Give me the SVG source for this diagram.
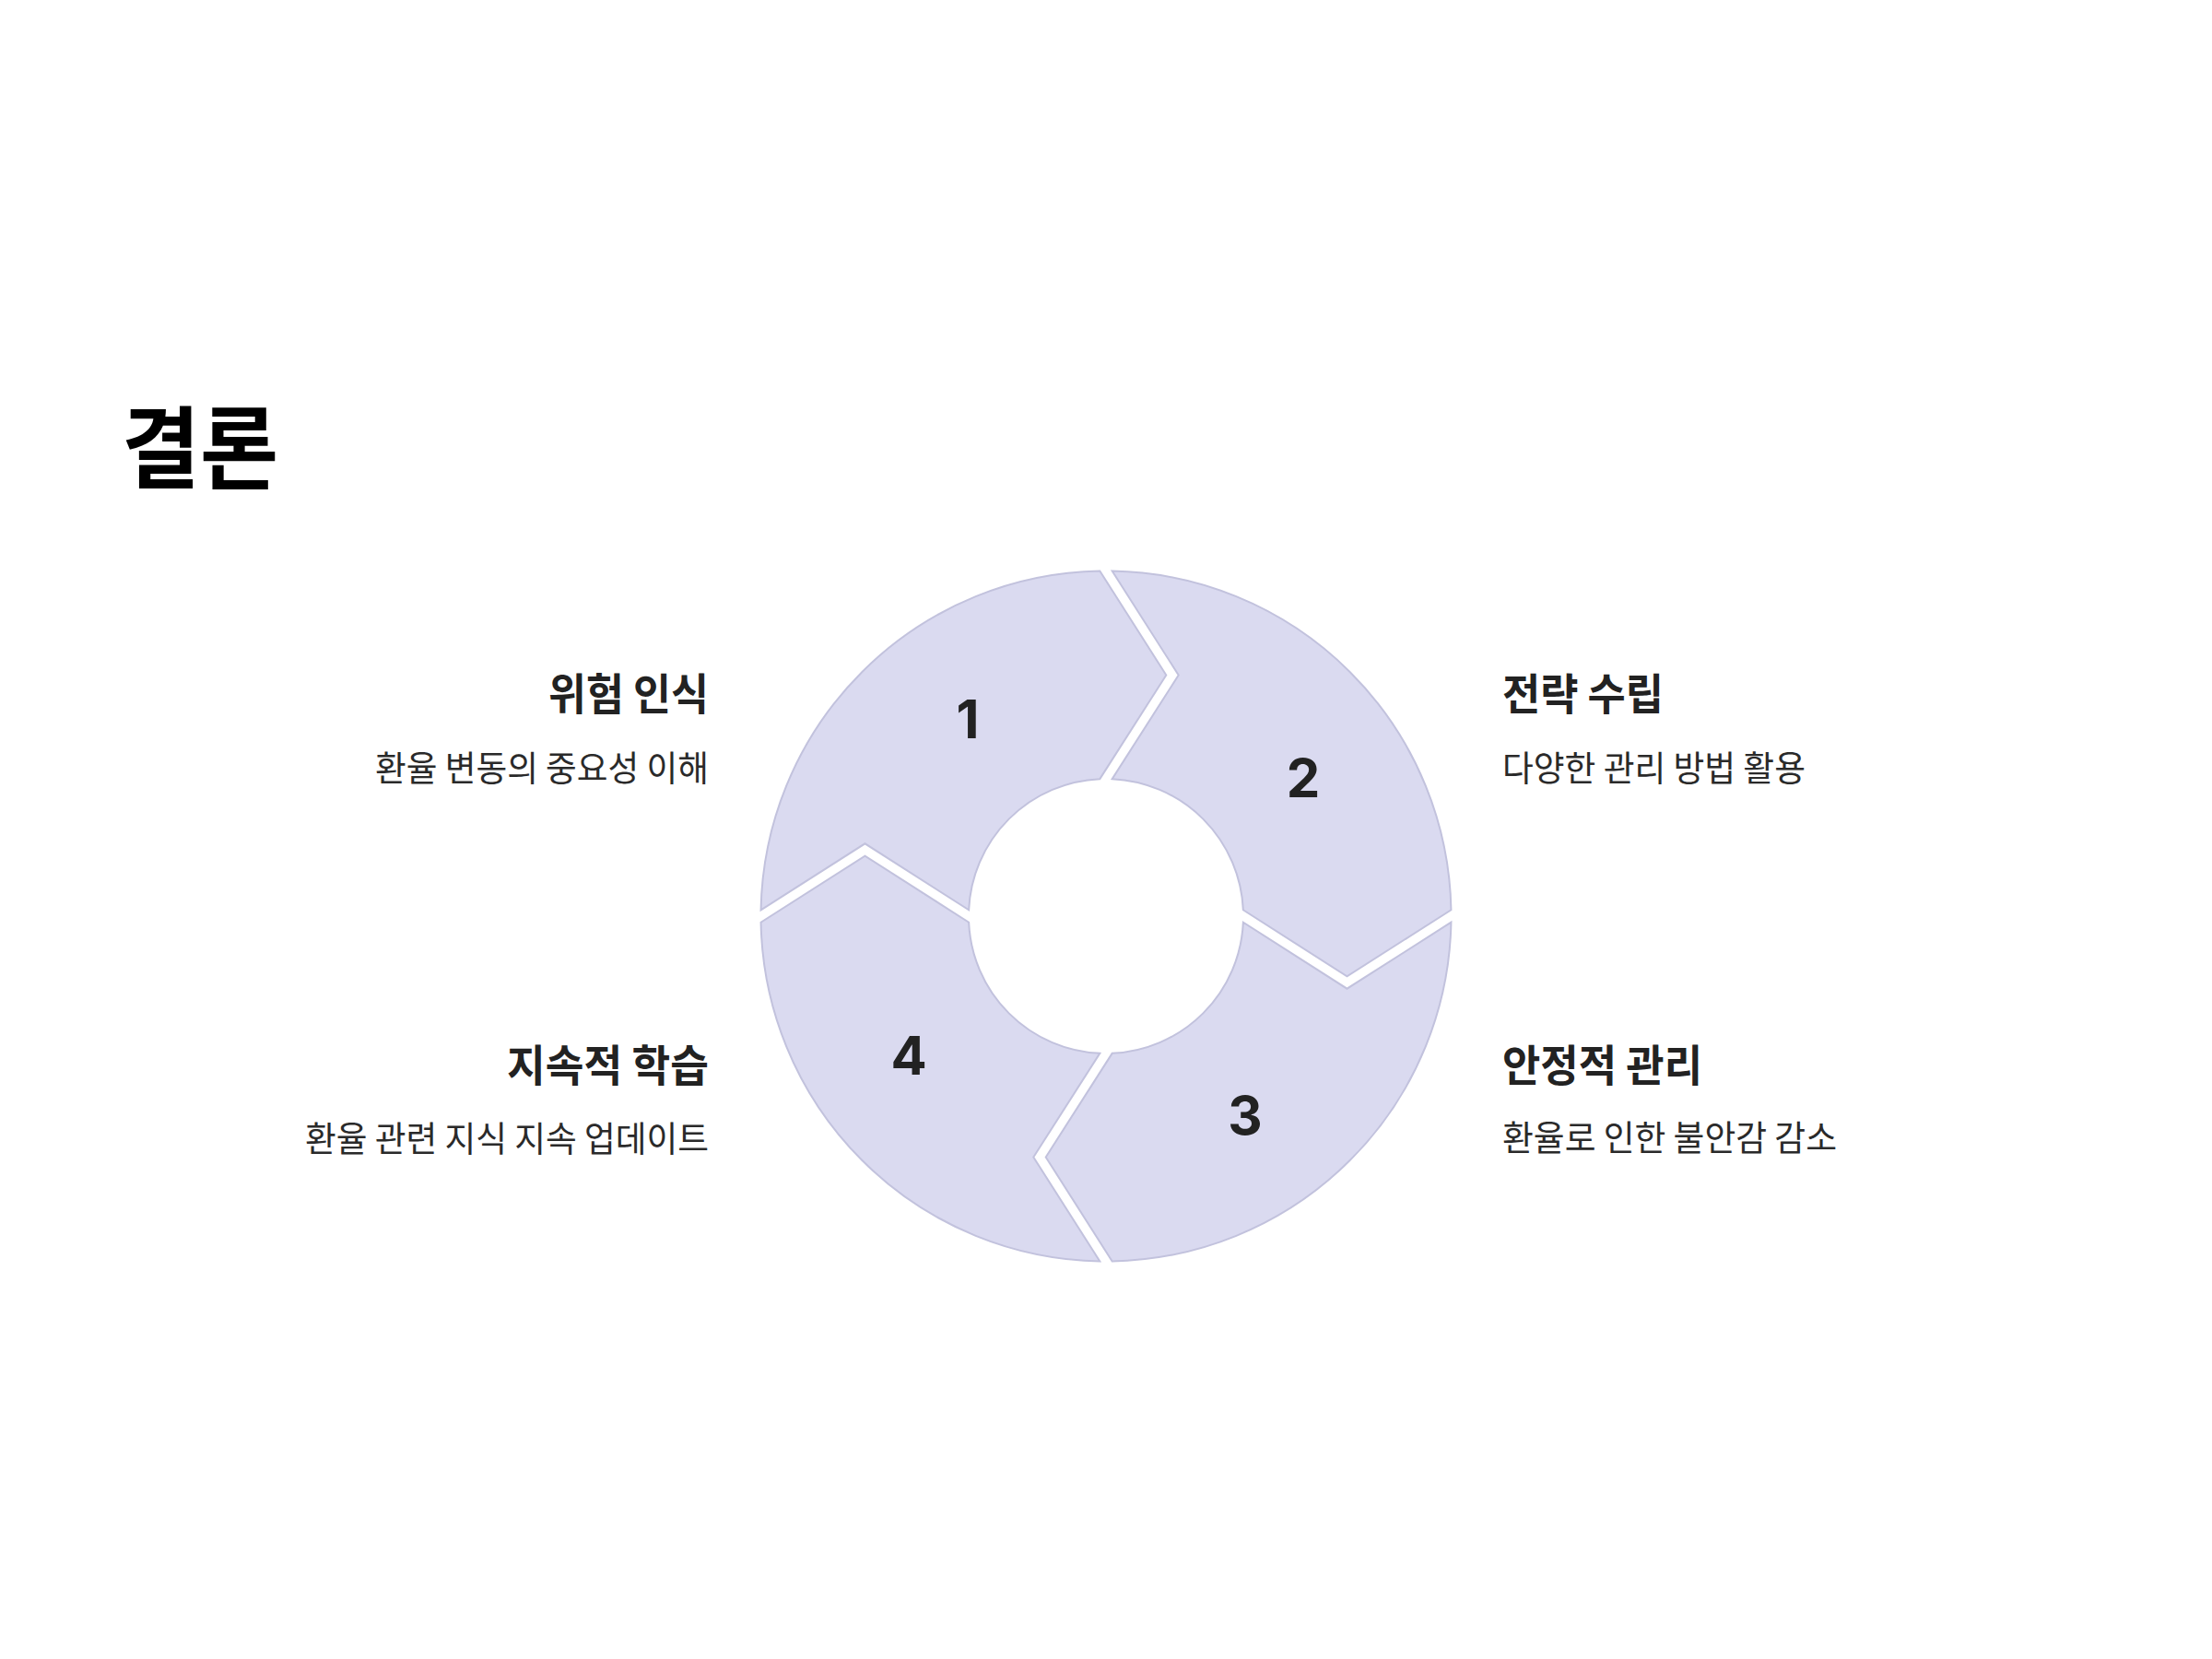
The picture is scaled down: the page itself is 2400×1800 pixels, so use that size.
<svg xmlns="http://www.w3.org/2000/svg" width="2400" height="1800" viewBox="0 0 2400 1800">
  <style>
    .seg { fill: #DADAF0; stroke: #C2C2DD; stroke-width: 2; stroke-linejoin: miter; }
    .num { font-family: Inter, "Liberation Sans", sans-serif; font-weight: 700; font-size: 58px; fill: #222222; text-anchor: middle; }
    .title { font-family: "Noto Sans CJK KR", sans-serif; font-weight: 700; font-size: 96px; fill: #000000; }
    .head { font-family: "Noto Sans CJK KR", sans-serif; font-weight: 700; font-size: 47px; fill: #222222; }
    .sub { font-family: "Noto Sans CJK KR", sans-serif; font-weight: 400; font-size: 38px; fill: #2a2a2a; }
    .end { text-anchor: end; }
    .start { text-anchor: start; }
  </style>
  <rect width="2400" height="1800" fill="#FFFFFF"/>

  <g id="title">
    <text class="title" x="132" y="521" textLength="170" lengthAdjust="spacingAndGlyphs">결론</text>
  </g>

  <g id="connectors"></g>

  <g id="step1">
    <path class="seg" d="M 825.56 987.3 A 374.5 374.5 0 0 1 1193.3 619.56 L 1265.3 732.5 L 1193.3 845.15 A 149 149 0 0 0 1051.15 987.3 L 938.5 915.3 Z"/>
    <text class="num" x="1050" y="801">1</text>
  </g>
  <g id="step2">
    <path class="seg" d="M 1206.7 619.56 A 374.5 374.5 0 0 1 1574.44 987.3 L 1461.5 1059.3 L 1348.85 987.3 A 149 149 0 0 0 1206.7 845.15 L 1278.7 732.5 Z"/>
    <text class="num" x="1414" y="865">2</text>
  </g>
  <g id="step3">
    <path class="seg" d="M 1574.44 1000.7 A 374.5 374.5 0 0 1 1206.7 1368.44 L 1134.7 1255.5 L 1206.7 1142.85 A 149 149 0 0 0 1348.85 1000.7 L 1461.5 1072.7 Z"/>
    <text class="num" x="1351" y="1231">3</text>
  </g>
  <g id="step4">
    <path class="seg" d="M 1193.3 1368.44 A 374.5 374.5 0 0 1 825.56 1000.7 L 938.5 928.7 L 1051.15 1000.7 A 149 149 0 0 0 1193.3 1142.85 L 1121.3 1255.5 Z"/>
    <text class="num" x="986" y="1166">4</text>
  </g>

  <g id="label1">
    <text class="head end" x="769" y="770" textLength="174" lengthAdjust="spacingAndGlyphs">위험 인식</text>
    <text class="sub end" x="769" y="847" textLength="362" lengthAdjust="spacingAndGlyphs">환율 변동의 중요성 이해</text>
  </g>
  <g id="label2">
    <text class="head start" x="1630" y="770" textLength="175" lengthAdjust="spacingAndGlyphs">전략 수립</text>
    <text class="sub start" x="1630" y="847" textLength="329" lengthAdjust="spacingAndGlyphs">다양한 관리 방법 활용</text>
  </g>
  <g id="label3">
    <text class="head start" x="1630" y="1173" textLength="217" lengthAdjust="spacingAndGlyphs">안정적 관리</text>
    <text class="sub start" x="1630" y="1248" textLength="363" lengthAdjust="spacingAndGlyphs">환율로 인한 불안감 감소</text>
  </g>
  <g id="label4">
    <text class="head end" x="769" y="1173" textLength="219" lengthAdjust="spacingAndGlyphs">지속적 학습</text>
    <text class="sub end" x="769" y="1249" textLength="438" lengthAdjust="spacingAndGlyphs">환율 관련 지식 지속 업데이트</text>
  </g>
</svg>
